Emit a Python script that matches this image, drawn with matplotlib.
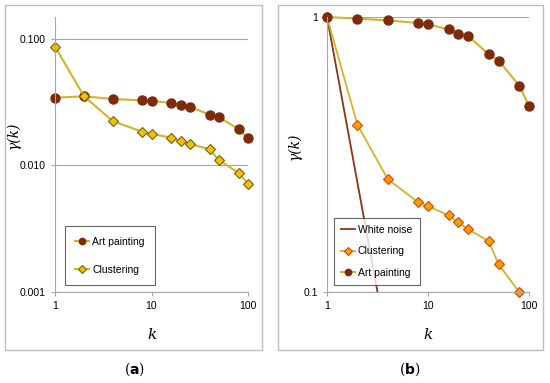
import matplotlib.pyplot as plt
from matplotlib.patches import Rectangle
from matplotlib.ticker import FixedLocator, FixedFormatter, NullLocator

# Data
k = [1, 2, 4, 8, 10, 16, 20, 25, 40, 50, 80, 100]

art_a = [0.0343, 0.0352, 0.0335, 0.0327, 0.0326, 0.0310, 0.0299, 0.0291,
         0.0252, 0.0240, 0.0194, 0.0164]
clust_a = [0.0869, 0.0352, 0.0223, 0.0185, 0.0178, 0.0166, 0.0156, 0.0148,
           0.0134, 0.0110, 0.00875, 0.00716]

art_b = [1.0, 0.986, 0.972, 0.951, 0.940, 0.902, 0.870, 0.851,
         0.732, 0.694, 0.563, 0.475]
k_clust_b = [1, 2, 4, 8, 10, 16, 20, 25, 40, 50, 80]
clust_b = [1.0, 0.406, 0.257, 0.212, 0.205, 0.190, 0.179, 0.169,
           0.153, 0.126, 0.100]
k_noise = [1, 2, 4]
noise_b = [1.0, 0.25, 0.0625]

line_col = '#D4B22C'
art_col = '#7E2A0C'
grid_col = '#A6A6A6'
tick_font = 'Liberation Sans'

fig = plt.figure(figsize=(5.5, 3.83), dpi=100)

# panel frames
for x0, x1 in [(5, 262), (278, 543)]:
    fig.patches.append(Rectangle((x0 / 550, 1 - 350 / 383), (x1 - x0) / 550, 345 / 383,
                                 transform=fig.transFigure, fill=False,
                                 edgecolor='#BFBFBF', lw=1.0))

ax1 = fig.add_axes([55 / 550, 1 - 292 / 383, 193 / 550, 275 / 383])
ax2 = fig.add_axes([327 / 550, 1 - 292 / 383, 202 / 550, 275 / 383])

for ax in (ax1, ax2):
    ax.set_xscale('log')
    ax.set_yscale('log')
    ax.set_xlim(1, 100)
    for s in ('top', 'right'):
        ax.spines[s].set_visible(False)
    for s in ('left', 'bottom'):
        ax.spines[s].set_color(grid_col)
        ax.spines[s].set_linewidth(0.8)
    ax.xaxis.set_major_locator(FixedLocator([1, 10, 100]))
    ax.xaxis.set_major_formatter(FixedFormatter(['1', '10', '100']))
    ax.xaxis.set_minor_locator(NullLocator())
    ax.yaxis.set_minor_locator(NullLocator())
    ax.tick_params(axis='both', length=3, color=grid_col, labelsize=7.5)
    ax.set_xlabel('k', fontsize=11, fontstyle='italic', family='DejaVu Serif')
    ax.set_ylabel('γ(k)', fontsize=10, fontstyle='italic', family='DejaVu Serif')
    ax.xaxis.set_label_coords(0.5, -0.13)
    ax.yaxis.grid(True, color=grid_col, lw=0.8)
    ax.set_axisbelow(True)

ax1.yaxis.set_label_coords(-0.18, 0.57)
ax2.yaxis.set_label_coords(-0.125, 0.53)

# panel (a)
ax1.set_ylim(0.001, 0.149)
ax1.yaxis.set_major_locator(FixedLocator([0.001, 0.01, 0.1]))
ax1.yaxis.set_major_formatter(FixedFormatter(['0.001', '0.010', '0.100']))
ax1.plot(k, art_a, color=line_col, lw=1.5, marker='o', ms=6.5,
         mfc=art_col, mec=art_col, label='Art painting', clip_on=False)
ax1.plot(k, clust_a, color=line_col, lw=1.5, marker='D', ms=5.5,
         mfc='#F0C010', mec='#7A6200', mew=0.8, label='Clustering', clip_on=False)
leg1 = ax1.legend(loc='lower left', bbox_to_anchor=(10 / 193, 7 / 275),
                  frameon=True, fancybox=False, edgecolor='#404040',
                  labelspacing=1.7, handlelength=1.3, handletextpad=0.3,
                  borderpad=1.0, borderaxespad=0, markerscale=0.7,
                  prop={'family': tick_font, 'size': 7.5})
leg1.get_frame().set_linewidth(0.8)

# panel (b)
ax2.set_ylim(0.1, 1)
ax2.yaxis.set_major_locator(FixedLocator([0.1, 1]))
ax2.yaxis.set_major_formatter(FixedFormatter(['0.1', '1']))
ax2.plot(k_noise, noise_b, color='#8B3418', lw=1.3, label='White noise')
ax2.plot(k_clust_b, clust_b, color=line_col, lw=1.3, marker='D', ms=5.5,
         mfc='#F5A000', mec='#E04010', mew=0.8, label='Clustering', clip_on=False)
ax2.plot(k, art_b, color=line_col, lw=1.5, marker='o', ms=6.5,
         mfc=art_col, mec=art_col, label='Art painting', clip_on=False)
leg2 = ax2.legend(loc='lower left', bbox_to_anchor=(7 / 202, 7 / 275),
                  frameon=True, fancybox=False, edgecolor='#404040',
                  labelspacing=1.1, handlelength=1.3, handletextpad=0.3,
                  borderpad=0.7, borderaxespad=0, markerscale=0.7,
                  prop={'family': tick_font, 'size': 7.5})
leg2.get_frame().set_linewidth(0.8)

for ax in (ax1, ax2):
    for lab in ax.get_xticklabels() + ax.get_yticklabels():
        lab.set_fontfamily(tick_font)

# captions
fig.text(135 / 550, 1 - 369 / 383, '($\\bf{a}$)', ha='center', va='center',
         fontsize=10, family='DejaVu Serif')
fig.text(410 / 550, 1 - 369 / 383, '($\\bf{b}$)', ha='center', va='center',
         fontsize=10, family='DejaVu Serif')

fig.savefig('out.png', dpi=100)
